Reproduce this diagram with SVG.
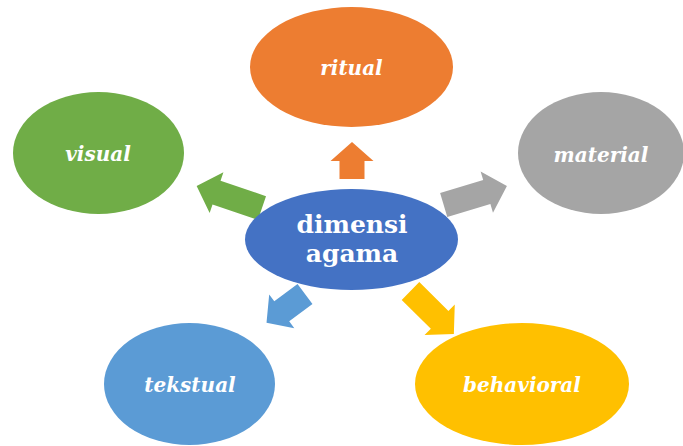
<svg xmlns="http://www.w3.org/2000/svg" width="683" height="446" viewBox="0 0 683 446">
<style>
.lbl{font-family:"DejaVu Serif","Liberation Serif",serif;font-style:italic;font-weight:bold;font-size:20px;fill:#fff;text-anchor:middle}
.ctr{font-family:"DejaVu Serif","Liberation Serif",serif;font-weight:bold;font-size:25px;fill:#fff;text-anchor:middle}
</style>
<rect width="683" height="446" fill="#fff"/>
<g id="connectors">
<polygon fill="#ED7D31" points="0,-12.5 18,-12.5 18,-21.5 37,0 18,21.5 18,12.5 0,12.5" transform="translate(352,179) rotate(-90)"/>
<polygon fill="#70AD47" points="0,-12.5 48,-12.5 48,-21.5 69,0 48,21.5 48,12.5 0,12.5" transform="translate(262,208) rotate(-161.3)"/>
<polygon fill="#A5A5A5" points="0,-12.5 45,-12.5 45,-21.5 66,0 45,21.5 45,12.5 0,12.5" transform="translate(443.7,205) rotate(-16.7)"/>
<polygon fill="#5B9BD5" points="0,-12.5 29,-12.5 29,-21 48,0 29,21 29,12.5 0,12.5" transform="translate(305,294) rotate(143.3)"/>
<polygon fill="#FFC000" points="0,-12.5 41,-12.5 41,-21.5 61,0 41,21.5 41,12.5 0,12.5" transform="translate(410.5,291) rotate(44.7)"/>
</g>
<g id="ritual"><ellipse cx="351.5" cy="67" rx="101.5" ry="60" fill="#ED7D31"/><text class="lbl" x="351.5" y="75">ritual</text></g>
<g id="visual"><ellipse cx="98.5" cy="153" rx="85.5" ry="61" fill="#70AD47"/><text class="lbl" x="98" y="161">visual</text></g>
<g id="material"><ellipse cx="601" cy="153" rx="83" ry="61" fill="#A5A5A5"/><text class="lbl" x="601" y="162">material</text></g>
<g id="tekstual"><ellipse cx="189.5" cy="384" rx="85.5" ry="61" fill="#5B9BD5"/><text class="lbl" x="190" y="392">tekstual</text></g>
<g id="behavioral"><ellipse cx="522" cy="384" rx="107" ry="61" fill="#FFC000"/><text class="lbl" x="522" y="392">behavioral</text></g>
<g id="dimensi-agama"><ellipse cx="351.5" cy="239.5" rx="106.5" ry="50.5" fill="#4472C4"/><text class="ctr" x="352" y="233">dimensi</text><text class="ctr" x="352" y="262">agama</text></g>
</svg>
